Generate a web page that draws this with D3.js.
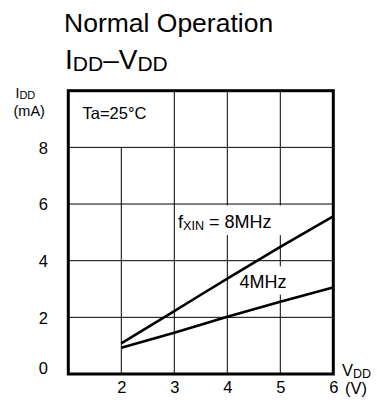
<!DOCTYPE html>
<html>
<head>
<meta charset="utf-8">
<script src="https://cdn.jsdelivr.net/npm/d3@7/dist/d3.min.js"></script>
<style>
  html, body { margin: 0; padding: 0; background: #fff; }
  svg { display: block; font-family: "Liberation Sans", Arial, sans-serif; }
</style>
</head>
<body>
<svg id="chart" width="377" height="405"></svg>
<script>
// Supply voltage (V) at which the current was measured
const vdd = [2, 3, 4, 5, 6];
// Supply current (mA) for each oscillator frequency
const idd8MHz = [1.08, 2.22, 3.37, 4.49, 5.57];
const idd4MHz = [0.93, 1.46, 2.02, 2.55, 3.06];
// Axis ticks
const xTicks = [2, 3, 4, 5, 6];
const yTicks = [0, 2, 4, 6, 8];

const svg = d3.select("#chart");

const x = d3.scaleLinear().domain([1, 6]).range([68.3, 333.3]);
const y = d3.scaleLinear().domain([0, 10]).range([374, 90.7]);

// Title
svg.append("text").attr("x", 64).attr("y", 32)
  .attr("font-size", 26.5).text("Normal Operation");
const t2 = svg.append("text").attr("x", 65).attr("y", 69).attr("font-size", 28);
t2.append("tspan").text("I");
t2.append("tspan").attr("font-size", 21).attr("dy", 2).text("DD");
t2.append("tspan").attr("dy", -2).text("\u2013V");
t2.append("tspan").attr("font-size", 21).attr("dy", 2).text("DD");

// Grid
const grid = svg.append("g").attr("stroke", "#000").attr("stroke-width", 1);
grid.selectAll("line.h").data(yTicks.filter(d => d > 0)).join("line")
  .attr("class", "h")
  .attr("x1", x(1)).attr("x2", x(6))
  .attr("y1", d => y(d)).attr("y2", d => y(d));
grid.selectAll("line.v").data(xTicks.filter(d => d < 6)).join("line")
  .attr("class", "v")
  .attr("x1", d => x(d)).attr("x2", d => x(d))
  .attr("y1", y(0))
  .attr("y2", d => d === 2 ? y(8) : y(10));

// Curve labels sit on white patches that hide the grid behind them
const labels = svg.append("g");
labels.append("rect")
  .attr("x", x(3.14)).attr("y", y(5.95))
  .attr("width", x(5.06) - x(3.14)).attr("height", y(4.9) - y(5.95))
  .attr("fill", "#fff");
labels.append("rect")
  .attr("x", x(4.18)).attr("y", y(3.8))
  .attr("width", x(5.18) - x(4.18)).attr("height", y(2.8) - y(3.8))
  .attr("fill", "#fff");

const l8 = labels.append("text").attr("x", x(3.07)).attr("y", y(5.15)).attr("font-size", 18);
l8.append("tspan").text("f");
l8.append("tspan").attr("font-size", 12.6).attr("dy", 2).text("XIN");
l8.append("tspan").attr("dy", -2).text(" = 8MHz");
labels.append("text").attr("x", x(4.23)).attr("y", y(3.03)).attr("font-size", 18).text("4MHz");

// Curves
const line = d3.line()
  .x((d, i) => x(vdd[i]))
  .y(d => y(d))
  .curve(d3.curveMonotoneX);
svg.selectAll("path.curve").data([idd8MHz, idd4MHz]).join("path")
  .attr("class", "curve")
  .attr("d", line)
  .attr("fill", "none").attr("stroke", "#000").attr("stroke-width", 2.6);

// Frame
svg.append("rect")
  .attr("x", x(1)).attr("y", y(10))
  .attr("width", x(6) - x(1)).attr("height", y(0) - y(10))
  .attr("fill", "none").attr("stroke", "#000").attr("stroke-width", 3);

// Condition note
svg.append("text").attr("x", 82.5).attr("y", 118.7).attr("font-size", 16.5).text("Ta=25\u00B0C");

// Axes: labels only
const yAxis = svg.append("g").attr("transform", "translate(48,0)")
  .call(d3.axisLeft(y).tickValues(yTicks).tickFormat(d3.format("d")).tickSize(0).tickPadding(0));
yAxis.select(".domain").remove();
yAxis.selectAll("text").attr("font-size", 16.5).attr("font-family", null).attr("fill", "#000")
  .attr("dy", d => d === 0 ? "-0.05em" : "0.35em");

const xAxis = svg.append("g").attr("transform", "translate(0,380)")
  .call(d3.axisBottom(x).tickValues(xTicks).tickFormat(d3.format("d")).tickSize(0).tickPadding(0));
xAxis.select(".domain").remove();
xAxis.selectAll("text").attr("font-size", 16.5).attr("font-family", null).attr("fill", "#000")
  .attr("dy", "0.76em");

// Axis titles
const yt = svg.append("text").attr("x", 15.5).attr("y", 97.5).attr("font-size", 14);
yt.append("tspan").text("I");
yt.append("tspan").attr("font-size", 11).attr("dy", 1).text("DD");
svg.append("text").attr("x", 13.5).attr("y", 115.5).attr("font-size", 14.5).text("(mA)");

const xt = svg.append("text").attr("x", 342).attr("y", 376).attr("font-size", 16.5);
xt.append("tspan").text("V");
xt.append("tspan").attr("font-size", 12.5).attr("dy", 1.5).text("DD");
svg.append("text").attr("x", 345).attr("y", 394).attr("font-size", 16.5).text("(V)");
</script>
</body>
</html>
